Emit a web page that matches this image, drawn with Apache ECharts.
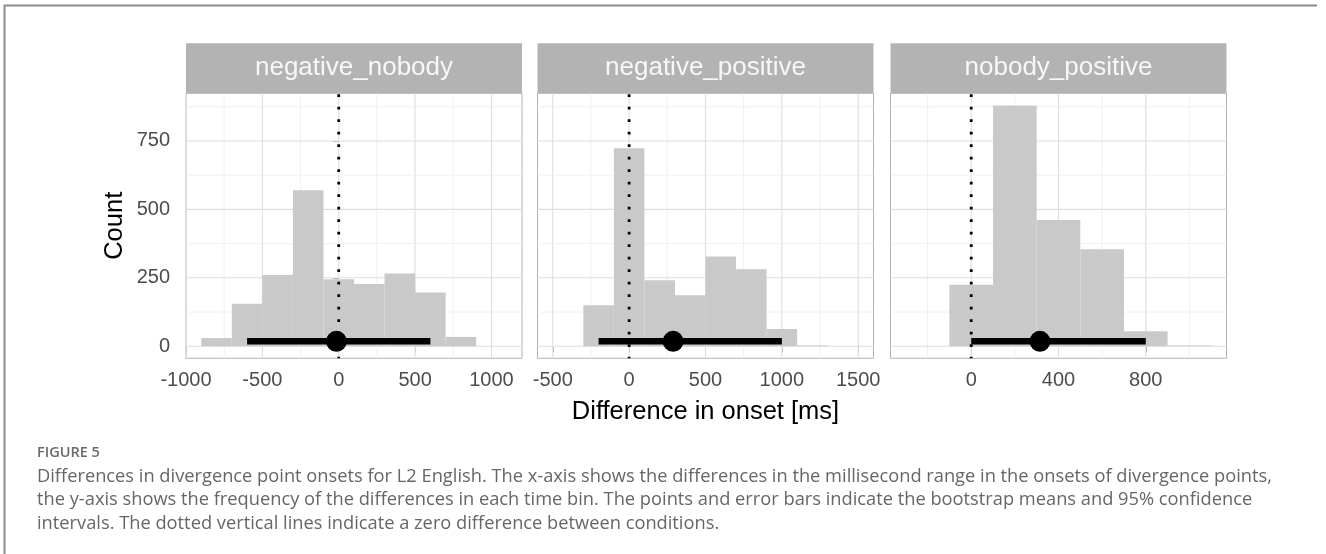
<!DOCTYPE html>
<html><head><meta charset="utf-8">
<script src="https://cdn.jsdelivr.net/npm/echarts@6/dist/echarts.min.js"></script>
<style>html,body{margin:0;padding:0;background:#fff;}#c{width:1326px;height:554px;}</style>
</head><body><div id="c"></div>
<script>
// ---------------- data ----------------
const facetNames = ['negative_nobody', 'negative_positive', 'nobody_positive'];
const binWidth = 200;
const binCenters1 = [-800, -600, -400, -200, 0, 200, 400, 600, 800, 1000];
const counts1     = [30, 155, 260, 570, 245, 227, 266, 196, 34, 0];
const binCenters2 = [-400, -200, 0, 200, 400, 600, 800, 1000, 1200, 1400];
const counts2     = [0, 150, 723, 241, 186, 328, 281, 63, 3, 0];
const binCenters3 = [-200, 0, 200, 400, 600, 800, 1000];
const counts3     = [0, 225, 879, 461, 354, 55, 3];
const bootMean = [-15, 288, 315];
const ciLow    = [-600, -200, 0];
const ciHigh   = [600, 1000, 800];
const ciYLevel = 18;
const xMajor1 = [-1000, -500, 0, 500, 1000];
const xMajor2 = [-500, 0, 500, 1000, 1500];
const xMajor3 = [0, 400, 800];
const xMinor1 = [-750, -250, 250, 750];
const xMinor2 = [-250, 250, 750, 1250];
const xMinor3 = [-200, 200, 600, 1000];
const xLimits1 = [-1000, 1200];
const xLimits2 = [-600, 1600];
const xLimits3 = [-370, 1170];
const yMajor = [0, 250, 500, 750];
const yMinor = [125, 375, 625, 875];
const yLimits = [-44, 924];
const zeroRef = 0;
const xTitle = 'Difference in onset [ms]';
const yTitle = 'Count';
const figLabel = 'FIGURE 5';
const captionLines = [
  'Differences in divergence point onsets for L2 English. The x-axis shows the differences in the millisecond range in the onsets of divergence points,',
  'the y-axis shows the frequency of the differences in each time bin. The points and error bars indicate the bootstrap means and 95% confidence',
  'intervals. The dotted vertical lines indicate a zero difference between conditions.'
];

// ---------------- layout / style ----------------
const PANEL_LEFT = [186, 537.5, 890.5];
const PANEL_W = 336;
const PANEL_TOP = 93.3;
const PANEL_H = 265;
const STRIP_H = 50;
const GREY70 = '#b3b3b3';
const BAR_FILL = '#c9c9c9';
const MAJOR_GRID = '#dedede';
const MINOR_GRID = '#ececec';
const AX_FONT = '"Liberation Sans", Arial, Helvetica, sans-serif';

const panels = [
  {centers: binCenters1, counts: counts1, xMajor: xMajor1, xMinor: xMinor1, xLim: xLimits1},
  {centers: binCenters2, counts: counts2, xMajor: xMajor2, xMinor: xMinor2, xLim: xLimits2},
  {centers: binCenters3, counts: counts3, xMajor: xMajor3, xMinor: xMinor3, xLim: xLimits3}
];

const grids = [], xAxes = [], yAxes = [], series = [], graphics = [];

panels.forEach((p, i) => {
  grids.push({left: PANEL_LEFT[i], top: PANEL_TOP, width: PANEL_W, height: PANEL_H,
    show: true, borderColor: GREY70, borderWidth: 1, backgroundColor: '#fff', containLabel: false});
  xAxes.push({
    gridIndex: i, type: 'value', min: p.xLim[0], max: p.xLim[1],
    axisLine: {show: false},
    axisTick: {show: true, length: 6, lineStyle: {color: GREY70, width: 1}, customValues: p.xMajor},
    axisLabel: {show: true, customValues: p.xMajor, color: '#4d4d4d', fontSize: 20, margin: 12,
      fontFamily: AX_FONT, formatter: v => String(v)},
    splitLine: {show: false},
    name: i === 1 ? xTitle : '', nameLocation: 'middle', nameGap: 41,
    nameTextStyle: {color: '#000', fontSize: 25.5, fontFamily: AX_FONT}
  });
  yAxes.push({
    gridIndex: i, type: 'value', min: yLimits[0], max: yLimits[1],
    axisLine: {show: false},
    axisTick: {show: i === 0, length: 6, lineStyle: {color: GREY70, width: 1}, customValues: yMajor},
    axisLabel: {show: i === 0, customValues: yMajor, color: '#4d4d4d', fontSize: 20, margin: 16,
      fontFamily: AX_FONT, formatter: v => String(v)},
    splitLine: {show: false},
    name: i === 0 ? yTitle : '', nameLocation: 'middle', nameGap: 58,
    nameTextStyle: {color: '#000', fontSize: 25.5, fontFamily: AX_FONT}
  });

  // vertical grid lines
  const vData = p.xMajor.map(v => [v, 1]).concat(p.xMinor.map(v => [v, 0]));
  series.push({
    type: 'custom', xAxisIndex: i, yAxisIndex: i, z: 1, silent: true, animation: false,
    data: vData,
    renderItem: (params, api) => {
      const v = api.value(0), m = api.value(1);
      const a = api.coord([v, yLimits[0]]), b = api.coord([v, yLimits[1]]);
      return {type: 'line', shape: {x1: a[0], y1: a[1], x2: b[0], y2: b[1]},
        style: {stroke: m ? MAJOR_GRID : MINOR_GRID, lineWidth: m ? 1.1 : 0.8}};
    }
  });
  // horizontal grid lines
  const hData = yMajor.map(v => [p.xLim[0], v, 1]).concat(yMinor.map(v => [p.xLim[0], v, 0]));
  series.push({
    type: 'custom', xAxisIndex: i, yAxisIndex: i, z: 1, silent: true, animation: false,
    data: hData,
    renderItem: (params, api) => {
      const v = api.value(1), m = api.value(2);
      const a = api.coord([p.xLim[0], v]), b = api.coord([p.xLim[1], v]);
      return {type: 'line', shape: {x1: a[0], y1: a[1], x2: b[0], y2: b[1]},
        style: {stroke: m ? MAJOR_GRID : MINOR_GRID, lineWidth: m ? 1.1 : 0.8}};
    }
  });
  // histogram bars
  series.push({
    type: 'custom', xAxisIndex: i, yAxisIndex: i, z: 2, silent: true, animation: false,
    data: p.centers.map((c, k) => [c, p.counts[k]]),
    renderItem: (params, api) => {
      const c = api.value(0), n = api.value(1);
      if (!(n > 0)) return null;
      const tl = api.coord([c - binWidth / 2, n]);
      const br = api.coord([c + binWidth / 2, 0]);
      return {type: 'rect', shape: {x: tl[0], y: tl[1], width: br[0] - tl[0], height: br[1] - tl[1]},
        style: {fill: BAR_FILL, stroke: null}};
    }
  });
  // dotted zero line
  series.push({
    type: 'custom', xAxisIndex: i, yAxisIndex: i, z: 3, silent: true, animation: false,
    data: [[zeroRef, 0]],
    renderItem: (params, api) => {
      const x = api.value(0);
      const a = api.coord([x, yLimits[1]]), b = api.coord([x, yLimits[0]]);
      return {type: 'line', shape: {x1: a[0], y1: a[1] + 1, x2: b[0], y2: b[1]},
        style: {stroke: '#000', lineWidth: 2.8, lineDash: [2.8, 9.7], lineCap: 'butt'}};
    }
  });
  // error bar
  series.push({
    type: 'custom', xAxisIndex: i, yAxisIndex: i, z: 4, silent: true, animation: false,
    data: [[ciLow[i], ciYLevel, ciHigh[i]]],
    renderItem: (params, api) => {
      const a = api.coord([api.value(0), api.value(1)]);
      const b = api.coord([api.value(2), api.value(1)]);
      return {type: 'line', shape: {x1: a[0], y1: a[1], x2: b[0], y2: b[1]},
        style: {stroke: '#000', lineWidth: 6.5, lineCap: 'butt'}};
    }
  });
  // bootstrap mean point
  series.push({
    type: 'scatter', xAxisIndex: i, yAxisIndex: i, z: 5, silent: true, animation: false,
    symbol: 'circle', symbolSize: 21, itemStyle: {color: '#000', opacity: 1},
    data: [[bootMean[i], ciYLevel]]
  });

  // strip
  graphics.push({type: 'rect', shape: {x: PANEL_LEFT[i], y: PANEL_TOP - STRIP_H, width: PANEL_W, height: STRIP_H},
    style: {fill: GREY70}, z: 10});
  graphics.push({type: 'text', x: PANEL_LEFT[i] + PANEL_W / 2, y: PANEL_TOP - STRIP_H / 2, z: 11,
    style: {text: facetNames[i], fill: '#f7f7f7', font: '26px ' + AX_FONT, textAlign: 'center', textVerticalAlign: 'middle'}});
});

// caption font sizing (fit first line to its measured width in the figure)
const CAP_FONT = '"Open Sans", Lato, sans-serif';
const ctx = document.createElement('canvas').getContext('2d');
ctx.font = '400 16px ' + CAP_FONT;
const capSize = 16 * 1236 / ctx.measureText(captionLines[0]).width;

graphics.push({type: 'polyline', shape: {points: [[4.5, 554], [4.5, 5.5], [1317, 5.5]]},
  style: {stroke: '#8c8c8c', lineWidth: 2, fill: null}, z: 10});
graphics.push({type: 'text', x: 37, y: 453, z: 10,
  style: {text: figLabel, fill: '#6a6a6a', font: '600 14.5px ' + CAP_FONT, textAlign: 'left', textVerticalAlign: 'middle'}});
captionLines.forEach((t, k) => {
  graphics.push({type: 'text', x: 37, y: 476.5 + k * 23.5, z: 10,
    style: {text: t, fill: '#666666', font: '400 ' + capSize.toFixed(2) + 'px ' + CAP_FONT, textAlign: 'left', textVerticalAlign: 'middle'}});
});

const chart = echarts.init(document.getElementById('c'), null, {renderer: 'canvas'});
chart.setOption({
  animation: false,
  backgroundColor: '#ffffff',
  grid: grids, xAxis: xAxes, yAxis: yAxes, series: series,
  graphic: {elements: graphics}
});
</script></body></html>
